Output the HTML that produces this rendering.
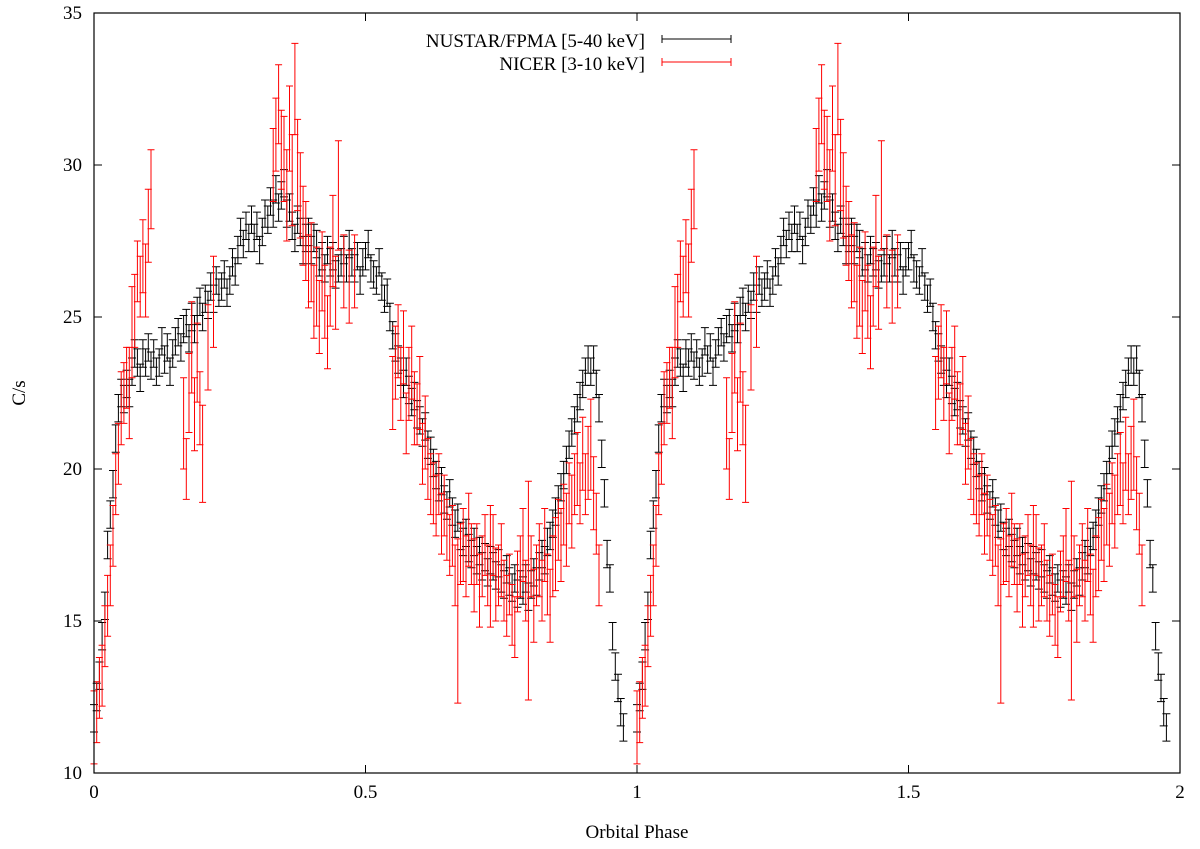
<!DOCTYPE html>
<html><head><meta charset="utf-8"><style>
html,body{margin:0;padding:0;background:#fff;}
svg{display:block;font-family:"Liberation Serif",serif;}
</style></head><body>
<svg id="chart" width="1200" height="849" viewBox="0 0 1200 849" xmlns="http://www.w3.org/2000/svg">
<g id="marks"></g>
<rect x="94" y="13" width="1086" height="760" fill="none" stroke="#000" stroke-width="1.2"/>
<g id="axes"></g>
<text x="637" y="838" font-size="19" text-anchor="middle">Orbital Phase</text>
<text x="0" y="0" font-size="19" text-anchor="middle" transform="translate(25,393) rotate(-90)">C/s</text>
<g>
<text x="645" y="47" font-size="19" text-anchor="end">NUSTAR/FPMA [5-40 keV]</text>
<path d="M662 39H731M662 35V43M731 35V43" stroke="#000" stroke-width="1"/>
<text x="645" y="70" font-size="19" text-anchor="end">NICER [3-10 keV]</text>
<path d="M662 62H731M662 58V66M731 58V66" stroke="#f00" stroke-width="1"/>
</g>
</svg>
<script>
const xTicks=[0,0.5,1,1.5,2];
const xTickLabels=["0","0.5","1","1.5","2"];
const yTicks=[10,15,20,25,30,35];
const yTickLabels=["10","15","20","25","30","35"];
const nuPhase=[0,0.005,0.01,0.015,0.02,0.025,0.03,0.035,0.04,0.045,0.05,0.055,0.06,0.065,0.07,0.075,0.08,0.085,0.09,0.095,0.10,0.105,0.11,0.115,0.12,0.125,0.13,0.135,0.14,0.145,0.15,0.155,0.16,0.165,0.17,0.175,0.18,0.185,0.19,0.195,0.20,0.205,0.21,0.215,0.22,0.225,0.23,0.235,0.24,0.245,0.25,0.255,0.26,0.265,0.27,0.275,0.28,0.285,0.29,0.295,0.30,0.305,0.31,0.315,0.32,0.325,0.33,0.335,0.34,0.345,0.35,0.355,0.36,0.365,0.37,0.375,0.38,0.385,0.39,0.395,0.40,0.405,0.41,0.415,0.42,0.425,0.43,0.435,0.44,0.445,0.45,0.455,0.46,0.465,0.47,0.475,0.48,0.485,0.49,0.495,0.50,0.505,0.51,0.515,0.52,0.525,0.53,0.535,0.54,0.545,0.55,0.555,0.56,0.565,0.57,0.575,0.58,0.585,0.59,0.595,0.60,0.605,0.61,0.615,0.62,0.625,0.63,0.635,0.64,0.645,0.65,0.655,0.66,0.665,0.67,0.675,0.68,0.685,0.69,0.695,0.70,0.705,0.71,0.715,0.72,0.725,0.73,0.735,0.74,0.745,0.75,0.755,0.76,0.765,0.77,0.775,0.78,0.785,0.79,0.795,0.80,0.805,0.81,0.815,0.82,0.825,0.83,0.835,0.84,0.845,0.85,0.855,0.86,0.865,0.87,0.875,0.88,0.885,0.89,0.895,0.90,0.905,0.91,0.915,0.92,0.925,0.93,0.935,0.94,0.945,0.95,0.955,0.96,0.965,0.97,0.975,0.98,0.985,0.99];
const nuRate=[11.8,12.5,13.2,14.5,15.5,17.5,18.5,19.5,21,22,22.5,22.3,22.8,22.5,23.2,23.8,23.5,23,23.8,23.5,24,23.4,23.8,23.2,23.5,24.2,23.6,24,23.2,23.8,24.2,24.5,24,24.6,24.8,24.3,25,24.6,25.2,25.5,25,25.6,25.4,26,25.6,26.2,25.8,26,26.4,25.8,26.2,26.8,26.5,27.2,27.8,27.4,28,27.6,28.2,27.6,28,27.2,27.8,28.4,28.2,28.8,28.4,29.2,28.6,29,29.4,28.4,28.6,28,27.6,28.2,27.8,27.2,27.6,27.8,27.2,27.6,27.4,26.8,27,26.6,27.2,26.8,27,26.4,26.6,26.8,27.2,26.6,27.4,26.8,26.6,27,26.2,26.8,27,27.4,26.6,26.4,26.2,26.8,26,25.6,25.8,25,24.4,24,23.6,23.2,22.8,23.2,22.6,22.2,22.4,21.8,21.6,21.2,21.4,20.8,20.6,20.2,19.8,19.4,19.6,19,18.8,19.2,18.6,18.2,18.4,17.8,17.6,17.9,17.4,17.2,17.6,17,17.3,16.8,17.1,16.6,17,16.8,16.5,16.9,16.4,16.2,16.7,16.3,16.1,16.4,15.9,16.2,16,16.4,15.8,16.2,16.6,16.3,16.8,17.2,17,17.6,17.8,18.2,18.6,19,19.4,19.8,20.3,20.8,21.2,21.6,22,22.4,22.8,23.2,23.6,23.2,23.6,22.8,22,20.5,19.2,17.2,16.4,14.5,13.5,12.8,12,11.5];
const niPhase=[0,0.005,0.01,0.015,0.02,0.025,0.03,0.035,0.04,0.045,0.05,0.055,0.06,0.065,0.07,0.075,0.08,0.085,0.09,0.095,0.10,0.105,0.165,0.17,0.175,0.18,0.185,0.19,0.195,0.20,0.21,0.22,0.33,0.335,0.34,0.345,0.35,0.355,0.36,0.365,0.37,0.375,0.38,0.385,0.39,0.395,0.40,0.405,0.41,0.415,0.42,0.425,0.43,0.435,0.44,0.445,0.45,0.46,0.47,0.48,0.55,0.555,0.56,0.565,0.57,0.575,0.58,0.585,0.59,0.595,0.60,0.605,0.61,0.615,0.62,0.625,0.63,0.635,0.64,0.645,0.65,0.655,0.66,0.665,0.67,0.675,0.68,0.685,0.69,0.695,0.70,0.705,0.71,0.715,0.72,0.725,0.73,0.735,0.74,0.745,0.75,0.755,0.76,0.765,0.77,0.775,0.78,0.785,0.79,0.795,0.80,0.805,0.81,0.815,0.82,0.825,0.83,0.835,0.84,0.845,0.85,0.855,0.86,0.865,0.87,0.875,0.88,0.885,0.89,0.895,0.90,0.905,0.91,0.915,0.92,0.925,0.93];
const niRate=[11.5,12,12.8,13.2,14.5,15.5,16.5,17.8,19.5,20.5,22,22.5,23,22.5,24.5,25.2,26.5,26,27,26.2,28,29.2,21.5,20,22.5,24,21.8,23.5,22,20.5,24,25.5,30,31,32,30.5,30.2,29,31.2,29.5,32.5,30,29,28,27.5,26.5,26.8,25.5,26,25,26.5,25.5,24.5,26,27.5,25.8,29,26.5,26,26.5,22.5,23.5,24.2,22.8,24,21.5,22.8,23.5,22,21.8,22.5,20.5,21.2,20,19.5,19.2,18.8,19.5,18.2,18.8,18,17.5,17.8,16.5,15,17.2,17.5,16.8,18,17.2,16.5,17.2,16,16.8,17.5,16.5,16.8,17.5,16.2,16.5,17,16,15.5,16.2,15.2,14.8,16.3,16.8,17.5,16,16,16.8,15.5,16.5,17,16,17.5,16.2,15.5,16.8,17.2,18,17.5,18.5,18,19.2,18.6,19.5,20,19.2,20.5,19.5,20.2,20.8,19.2,18.2,16.5];
const niErr=[1.2,1,1,1,1,1,1,1,1,1,1.2,1,1,1.5,1.5,1.2,1,1,1.2,1.2,1.2,1.3,1.5,1,1.3,1.5,1.2,1.3,1.2,1.6,1.4,1.5,1.2,1.2,1.3,1.3,1.4,1.5,1.4,1.5,1.5,1.5,1.4,1.3,1.3,1.2,1.3,1.2,1.3,1.2,1.3,1.2,1.2,1.3,1.5,1.2,1.8,1.2,1.2,1.2,1.2,1.2,1.2,1.2,1.2,1,1.2,1.2,1.2,1,1.2,1,1.2,1,1,1,1,1,1,1,1,1,1,1,2.7,1,1.2,1,1.2,1,1.2,1,1.2,1,1,1,2,1,1.2,1,1.2,1,1,1,1,1,1,1,1.2,1,3.6,1,1.2,1,1.2,1,1.2,1,1.2,1,1.2,1,1.2,1,1.2,1,1.2,1,1.2,1,1.2,1,1.2,1.5,1.2];
const nuErr=0.45;
const X0=94,X1=1180,Y0=773,Y1=13;
function xs(p){return X0+(p-0)/(2-0)*(X1-X0);}
function ys(v){return Y0-(v-10)/(35-10)*(Y0-Y1);}
const NS='http://www.w3.org/2000/svg';
const marks=document.getElementById('marks');
function errSeries(ph,val,errFn,color,name,cap){
  const g=document.createElementNS(NS,'g');
  
  
  const n=Math.min(ph.length,val.length);
  for(let c=0;c<2;c++){
    for(let i=0;i<n;i++){
      const x=xs(ph[i]+c); if(x>X1) continue;
      let e=errFn(i); if(!(e>0)) e=1;
      const ya=ys(val[i]+e), yb=ys(val[i]-e);
      if(!isFinite(ya)||!isFinite(yb)) continue;
      const p=document.createElementNS(NS,'path');
      
      
      p.setAttribute('d',`M${x.toFixed(1)} ${ya.toFixed(1)}V${yb.toFixed(1)}M${(x-cap).toFixed(1)} ${ya.toFixed(1)}h${2*cap}M${(x-cap).toFixed(1)} ${yb.toFixed(1)}h${2*cap}`);
      p.setAttribute('stroke',color);p.setAttribute('stroke-width','1');p.setAttribute('fill','none');
      g.appendChild(p);
    }
  }
  marks.appendChild(g);
}
errSeries(nuPhase,nuRate,()=>nuErr,'#000','nustar-series',4);
errSeries(niPhase,niRate,i=>niErr[i],'#f00','nicer-series',3.5);
const axes=document.getElementById('axes');
let td='';
xTicks.forEach((t,i)=>{const x=xs(t);td+=`M${x} ${Y0}v-8M${x} ${Y1}v8`;
  const tx=document.createElementNS(NS,'text');
  
  
  tx.setAttribute('x',x);tx.setAttribute('y',Y0+25);tx.setAttribute('font-size','19');tx.setAttribute('text-anchor','middle');tx.textContent=xTickLabels[i];axes.appendChild(tx);});
yTicks.forEach((t,i)=>{const y=ys(t);td+=`M${X0} ${y}h8M${X1} ${y}h-8`;
  const tx=document.createElementNS(NS,'text');
  
  
  tx.setAttribute('x',X0-12);tx.setAttribute('y',y+6);tx.setAttribute('font-size','19');tx.setAttribute('text-anchor','end');tx.textContent=yTickLabels[i];axes.appendChild(tx);});
const tp=document.createElementNS(NS,'path');


tp.setAttribute('d',td);tp.setAttribute('stroke','#000');tp.setAttribute('stroke-width','1');axes.appendChild(tp);
</script>
</body></html>
